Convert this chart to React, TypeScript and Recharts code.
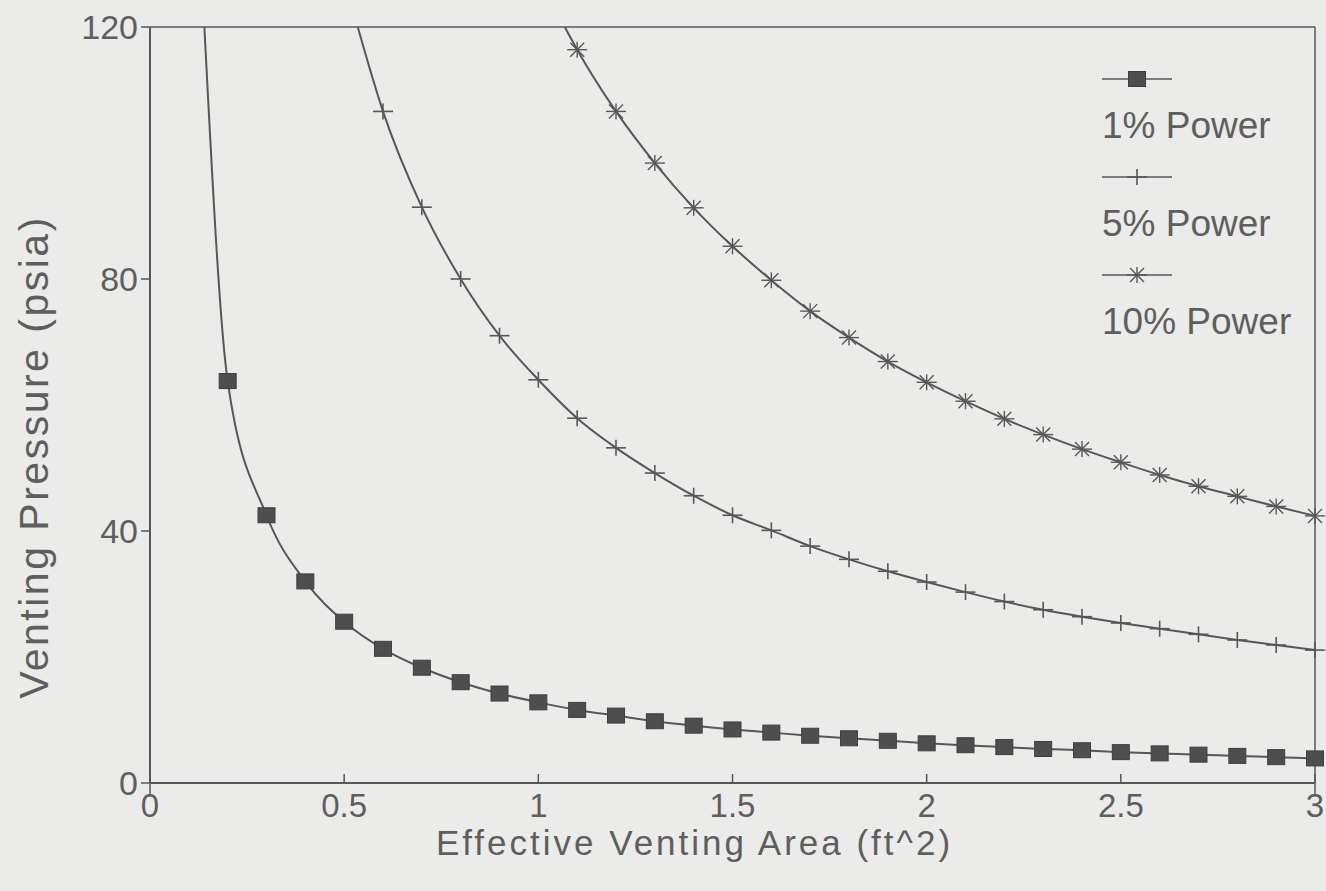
import { LineChart, Line, XAxis, YAxis, ReferenceLine, Label } from 'recharts';

// Effective venting area (ft^2) for each curve; the first entry of each list is
// where the curve enters the plot at the top edge (no marker drawn there).
const area1 = [0.14, 0.2, 0.3, 0.4, 0.5, 0.6, 0.7, 0.8, 0.9, 1.0, 1.1, 1.2, 1.3, 1.4, 1.5,
    1.6, 1.7, 1.8, 1.9, 2.0, 2.1, 2.2, 2.3, 2.4, 2.5, 2.6, 2.7, 2.8, 2.9, 3.0];
const pressure1 = [120, 63.8, 42.5, 32.0, 25.6, 21.3, 18.3, 16.0, 14.2, 12.8, 11.6, 10.7, 9.8, 9.1, 8.5,
    8.0, 7.5, 7.1, 6.7, 6.3, 6.0, 5.7, 5.4, 5.2, 4.9, 4.7, 4.5, 4.3, 4.1, 3.9];

const area5 = [0.535, 0.6, 0.7, 0.8, 0.9, 1.0, 1.1, 1.2, 1.3, 1.4, 1.5, 1.6, 1.7, 1.8, 1.9,
    2.0, 2.1, 2.2, 2.3, 2.4, 2.5, 2.6, 2.7, 2.8, 2.9, 3.0];
const pressure5 = [120, 106.6, 91.4, 80.0, 71.0, 64.0, 57.9, 53.2, 49.2, 45.6, 42.5, 40.1, 37.6, 35.5, 33.6,
    31.9, 30.3, 28.8, 27.5, 26.4, 25.4, 24.5, 23.6, 22.7, 21.9, 21.1];

const area10 = [1.068, 1.1, 1.2, 1.3, 1.4, 1.5, 1.6, 1.7, 1.8, 1.9, 2.0, 2.1, 2.2, 2.3, 2.4,
    2.5, 2.6, 2.7, 2.8, 2.9, 3.0];
const pressure10 = [120, 116.4, 106.6, 98.4, 91.3, 85.2, 79.8, 74.9, 70.7, 66.9, 63.6, 60.6, 57.8, 55.3, 53.0,
    50.9, 48.9, 47.1, 45.5, 43.9, 42.4];

const xTicks = [0, 0.5, 1, 1.5, 2, 2.5, 3];
const yTicks = [0, 40, 80, 120];
const seriesNames = ['1% Power', '5% Power', '10% Power'];

const toPoints = (xs: number[], ys: number[]) => xs.map((x, i) => ({ area: x, pressure: ys[i] }));

const INK = '#575757';
const TEXT = '#5e5e5e';
const FONT = '"Liberation Sans", Arial, Helvetica, sans-serif';

function Square({ cx, cy }: { cx: number; cy: number }) {
    return <rect x={cx - 8.5} y={cy - 7.5} width={17} height={15} fill="#4e4e4e" stroke="#3e3e3e" strokeWidth={1} />;
}

function Plus({ cx, cy }: { cx: number; cy: number }) {
    return (
        <g stroke={INK} strokeWidth={1.6}>
            <line x1={cx - 10} x2={cx + 10} y1={cy} y2={cy} />
            <line x1={cx} x2={cx} y1={cy - 8} y2={cy + 8} />
        </g>
    );
}

function Star({ cx, cy }: { cx: number; cy: number }) {
    return (
        <g stroke={INK} strokeWidth={1.4}>
            <line x1={cx - 10} x2={cx + 10} y1={cy} y2={cy} />
            <line x1={cx} x2={cx} y1={cy - 8} y2={cy + 8} />
            <line x1={cx - 7} x2={cx + 7} y1={cy - 7} y2={cy + 7} />
            <line x1={cx - 7} x2={cx + 7} y1={cy + 7} y2={cy - 7} />
        </g>
    );
}

const markers = [Square, Plus, Star];

// skip the entry point at the top edge
const makeDot = (Marker: typeof Square, id: string) => (props: any) => {
    const { cx, cy, index } = props;
    if (index === 0 || cx == null || cy == null) return <g key={`${id}-${index}`} />;
    return (
        <g key={`${id}-${index}`}>
            <Marker cx={cx} cy={cy} />
        </g>
    );
};

function XTick({ x, y, payload }: any) {
    const edge = payload.value === xTicks[0] || payload.value === xTicks[xTicks.length - 1];
    return (
        <g>
            <line x1={x} x2={x} y1={edge ? y + 11 : y} y2={y - 9} stroke={INK} strokeWidth={1.5} />
            <text x={x} y={y + 34} textAnchor="middle" fontSize={33} fill={TEXT} fontFamily={FONT}>
                {payload.value}
            </text>
        </g>
    );
}

function LegendBox() {
    return (
        <div style={{ position: 'absolute', left: 1102, top: 67, width: 220, fontFamily: FONT, color: TEXT }}>
            {seriesNames.map((name, i) => {
                const Marker = markers[i];
                return (
                    <div key={name} style={{ height: 98 }}>
                        <svg width={80} height={24} style={{ display: 'block', marginLeft: -2 }}>
                            <line x1={2} x2={72} y1={12} y2={12} stroke={INK} strokeWidth={1.5} />
                            <Marker cx={37} cy={12} />
                        </svg>
                        <div style={{ fontSize: 37, lineHeight: '42px', marginTop: 14, whiteSpace: 'nowrap' }}>{name}</div>
                    </div>
                );
            })}
        </div>
    );
}

export default function App() {
    const curves = [toPoints(area1, pressure1), toPoints(area5, pressure5), toPoints(area10, pressure10)];

    return (
        <div style={{ position: 'absolute', left: 0, top: 0, width: 1326, height: 891, background: '#ebebe9' }}>
            <LineChart width={1326} height={891} margin={{ top: 27, right: 11, left: 0, bottom: 0 }}>
                <XAxis
                    type="number"
                    dataKey="area"
                    domain={[0, 3]}
                    ticks={xTicks}
                    tick={<XTick />}
                    tickLine={false}
                    tickSize={0}
                    tickMargin={0}
                    height={108}
                    axisLine={{ stroke: INK, strokeWidth: 2 }}
                    interval={0}
                >
                    <Label
                        content={({ viewBox }: any) => (
                            <text
                                x={viewBox.x + viewBox.width / 2 - 38}
                                y={viewBox.y + 72}
                                textAnchor="middle"
                                fontSize={35}
                                letterSpacing={3}
                                fill={TEXT}
                                fontFamily={FONT}
                            >
                                Effective Venting Area (ft^2)
                            </text>
                        )}
                    />
                </XAxis>
                <YAxis
                    type="number"
                    dataKey="pressure"
                    domain={[0, 120]}
                    ticks={yTicks}
                    width={150}
                    interval={0}
                    tickSize={9}
                    tickMargin={3}
                    tick={{ fontSize: 34, fill: TEXT, fontFamily: FONT }}
                    tickLine={{ stroke: INK, strokeWidth: 1.5 }}
                    axisLine={{ stroke: INK, strokeWidth: 2 }}
                >
                    <Label
                        content={({ viewBox }: any) => {
                            const lx = viewBox.x + 48;
                            const ly = viewBox.y + viewBox.height / 2 + 52;
                            return (
                                <text
                                    x={lx}
                                    y={ly}
                                    transform={`rotate(-90 ${lx} ${ly})`}
                                    textAnchor="middle"
                                    fontSize={41}
                                    letterSpacing={2.5}
                                    fill={TEXT}
                                    fontFamily={FONT}
                                >
                                    Venting Pressure (psia)
                                </text>
                            );
                        }}
                    />
                </YAxis>
                <ReferenceLine y={120} stroke={INK} strokeWidth={1.5} />
                <ReferenceLine x={3} stroke={INK} strokeWidth={1.5} />
                {curves.map((data, i) => (
                    <Line
                        key={seriesNames[i]}
                        data={data}
                        dataKey="pressure"
                        name={seriesNames[i]}
                        type="monotone"
                        stroke={INK}
                        strokeWidth={2}
                        dot={makeDot(markers[i], `d${i}`)}
                        activeDot={false}
                        isAnimationActive={false}
                    />
                ))}
            </LineChart>
            <LegendBox />
        </div>
    );
}
